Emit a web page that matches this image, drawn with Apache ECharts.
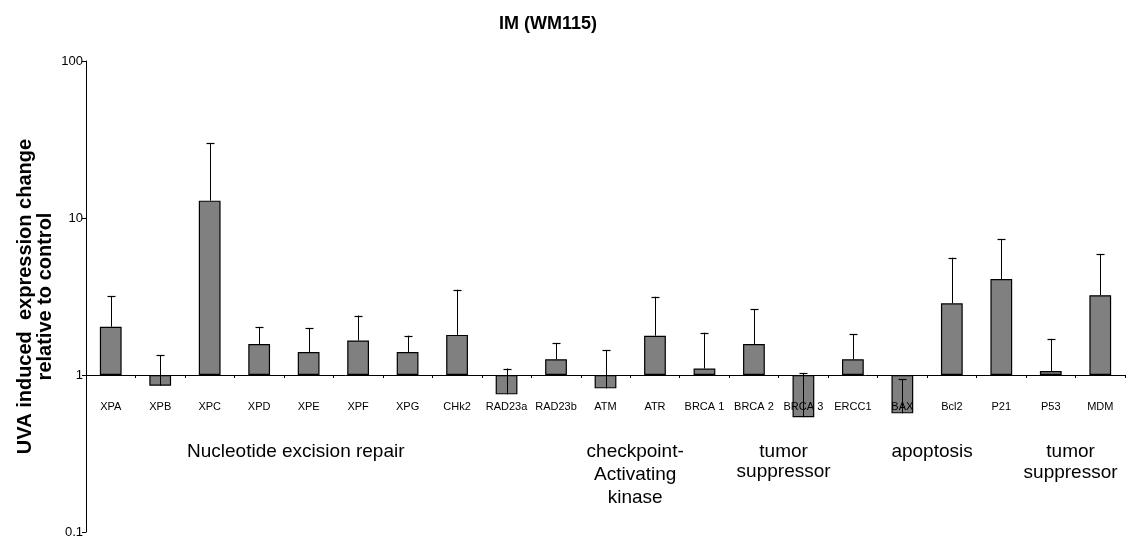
<!DOCTYPE html>
<html>
<head>
<meta charset="utf-8">
<script src="https://cdn.jsdelivr.net/npm/echarts@6/dist/echarts.min.js"></script>
<style>
  html, body { margin: 0; padding: 0; background: #ffffff; }
  #chart { width: 1126px; height: 542px; }
</style>
</head>
<body>
<div id="chart"></div>
<script>
// Genes on the category axis
const genes = ['XPA', 'XPB', 'XPC', 'XPD', 'XPE', 'XPF', 'XPG', 'CHk2', 'RAD23a', 'RAD23b',
  'ATM', 'ATR', 'BRCA 1', 'BRCA 2', 'BRCA 3', 'ERCC1', 'BAX', 'Bcl2', 'P21', 'P53', 'MDM'];
// Fold change relative to control (log axis, bars grow from 1)
const foldChange = [2.03, 0.855, 12.9, 1.575, 1.40, 1.66, 1.40, 1.80, 0.753, 1.26,
  0.822, 1.78, 1.10, 1.575, 0.538, 1.26, 0.570, 2.86, 4.09, 1.06, 3.22];
// Upper end of each error bar
const errorUpper = [3.18, 1.34, 29.9, 2.01, 1.98, 2.39, 1.78, 3.49, 1.10, 1.59,
  1.44, 3.15, 1.86, 2.62, 1.025, 1.82, 0.943, 5.59, 7.35, 1.70, 5.90];
// Value-axis tick labels
const yTicks = ['0.1', '1', '10', '100'];
// Functional groups and the category position each is centred on
const groupNames = ['Nucleotide excision repair', 'checkpoint-\nActivating\nkinase',
  'tumor\nsuppressor', 'apoptosis', 'tumor\nsuppressor'];
const groupCenters = [3.74, 10.6, 13.6, 16.6, 19.4];

const FONT = '"Liberation Sans", Arial, Helvetica, sans-serif';
const grid = { left: 86, right: 1, top: 61, bottom: 10 };
const baselineOffset = -157; // category axis sits at value 1

const chart = echarts.init(document.getElementById('chart'), null, { renderer: 'canvas' });

const option = {
  animation: false,
  backgroundColor: '#ffffff',
  title: {
    text: 'IM (WM115)',
    left: 543,
    top: 10,
    textAlign: 'center',
    textStyle: { fontFamily: FONT, fontSize: 18, fontWeight: 'bold', color: '#000' }
  },
  grid: grid,
  xAxis: {
    type: 'category',
    data: genes,
    position: 'bottom',
    offset: baselineOffset,
    z: 10,
    axisLine: { show: true, onZero: false, lineStyle: { color: '#000', width: 1 } },
    axisTick: { show: true, length: 3, inside: false, lineStyle: { color: '#000' } },
    axisLabel: { margin: 26, fontFamily: FONT, fontSize: 11, color: '#000', interval: 0 },
    splitLine: { show: false }
  },
  yAxis: {
    type: 'log',
    logBase: 10,
    min: 0.1,
    max: 100,
    name: 'UVA induced  expression change\nrelative to control',
    nameLocation: 'middle',
    nameRotate: 90,
    nameGap: 31,
    nameMoveOverlap: false,
    nameTextStyle: { fontFamily: FONT, fontSize: 20, fontWeight: 'bold', color: '#000', lineHeight: 20 },
    axisLine: { show: true, lineStyle: { color: '#000', width: 1 } },
    axisTick: { show: true, length: 4, inside: false, lineStyle: { color: '#000' } },
    axisLabel: {
      margin: 3,
      fontFamily: FONT, fontSize: 13, color: '#000',
      formatter: function (v) {
        const k = Math.round(Math.log10(v)) + 1;
        return yTicks[k] !== undefined ? yTicks[k] : '';
      }
    },
    splitLine: { show: false },
    minorTick: { show: false }
  },
  series: [
    {
      type: 'bar',
      data: foldChange,
      barWidth: '44%',
      z: 2,
      itemStyle: { color: '#808080', borderColor: '#000', borderWidth: 1.2 }
    },
    {
      type: 'custom',
      z: 12,
      data: foldChange.map(function (v, i) { return [i, v, errorUpper[i]]; }),
      renderItem: function (params, api) {
        const base = api.coord([api.value(0), api.value(1)]);
        const top = api.coord([api.value(0), api.value(2)]);
        const x = Math.round(base[0]) + 0.5;
        const cap = 4;
        return {
          type: 'group',
          children: [
            { type: 'line', shape: { x1: x, y1: base[1], x2: x, y2: top[1] },
              style: { stroke: '#000', lineWidth: 1 } },
            { type: 'line', shape: { x1: x - cap, y1: Math.round(top[1]) + 0.5, x2: x + cap, y2: Math.round(top[1]) + 0.5 },
              style: { stroke: '#000', lineWidth: 1.2 } }
          ]
        };
      }
    }
  ]
};

chart.setOption(option);

// Group captions under the gene labels, centred on category positions
function catToPixel(pos) {
  const i0 = Math.max(0, Math.min(genes.length - 2, Math.floor(pos)));
  const p0 = chart.convertToPixel({ xAxisIndex: 0 }, i0);
  const p1 = chart.convertToPixel({ xAxisIndex: 0 }, i0 + 1);
  return p0 + (p1 - p0) * (pos - i0);
}
const groupLineHeight = [23, 23, 20, 23, 21];
chart.setOption({
  graphic: groupNames.map(function (name, k) {
    const lh = groupLineHeight[k];
    return {
      type: 'text',
      x: catToPixel(groupCenters[k]),
      y: 452 - lh / 2,
      style: {
        text: name,
        fill: '#000',
        font: '19px ' + FONT,
        align: 'center',
        verticalAlign: 'top',
        lineHeight: lh
      }
    };
  })
});
</script>
</body>
</html>
